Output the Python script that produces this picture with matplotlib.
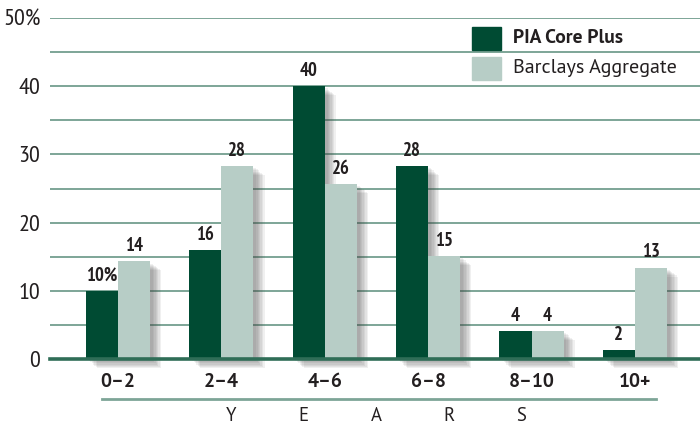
import matplotlib
matplotlib.use("Agg")
import matplotlib.pyplot as plt
import matplotlib.patheffects as pe
import numpy as np

# duration buckets and the two series (% of portfolio)
buckets = ["0\u20132", "2\u20134", "4\u20136", "6\u20138", "8\u201310", "10+"]
pia = [10, 16, 40, 28.3, 4.1, 1.3]
barclays = [14.3, 28.3, 25.7, 15.1, 4.1, 13.4]
pia_labels = ["10%", "16", "40", "28", "4", "2"]
barclays_labels = ["14", "28", "26", "15", "4", "13"]
series_names = ["PIA Core Plus", "Barclays Aggregate"]
yticks = [0, 10, 20, 30, 40, 50]
ytick_labels = ["0", "10", "20", "30", "40", "50%"]
axis_word = ["Y", "E", "A", "R", "S"]

dark = "#004b33"
light = "#b7cdc6"
grid_col = "#7da597"
base_col = "#2f6d57"
txt = "#231f20"
narrow = ["PT Sans Narrow", "DejaVu Sans"]
sans = ["PT Sans", "DejaVu Sans"]

fig = plt.figure(figsize=(7, 4.26), dpi=100)
ax = fig.add_axes([50 / 700, 67 / 426, 650 / 700, 341 / 426])

x = np.arange(len(buckets))
w = 0.31

# soft drop shadow made from stacked translucent copies
shadow = [pe.SimplePatchShadow(offset=(d, -d * 0.8), shadow_rgbFace="#444444", alpha=0.08)
          for d in (2, 3, 4, 5, 6, 7, 8)] + [pe.Normal()]

b1 = ax.bar(x - w / 2, pia, w, color=dark, zorder=3, clip_on=False)
b2 = ax.bar(x + w / 2, barclays, w, color=light, zorder=3, clip_on=False)
for b in list(b1) + list(b2):
    b.set_path_effects(shadow)

for i in range(len(buckets)):
    ax.text(x[i] - w / 2, pia[i] + 0.9, pia_labels[i], ha="center", va="bottom",
            fontsize=13.5, fontweight="bold", family=narrow, color=txt)
    ax.text(x[i] + w / 2, barclays[i] + 0.9, barclays_labels[i], ha="center", va="bottom",
            fontsize=13.5, fontweight="bold", family=narrow, color=txt)

# gridlines every 5
for g in range(5, 51, 5):
    ax.axhline(g, color=grid_col, lw=1.4, zorder=1)
ax.axhline(0, color=base_col, lw=2.6, zorder=5, clip_on=False)

ax.set_xlim(-0.658, 5.63)
ax.set_ylim(0, 50)
for s in ax.spines.values():
    s.set_visible(False)
ax.set_yticks(yticks)
ax.set_yticklabels(ytick_labels, fontsize=17.5, family=narrow, color=txt)
ax.tick_params(axis="y", length=0, pad=7)
ax.set_xticks(x)
ax.set_xticklabels(buckets, fontsize=14, fontweight="bold", family=sans, color=txt)
ax.tick_params(axis="x", length=0, pad=10)

# underline and spaced YEARS
fig.add_artist(plt.Line2D([102 / 700, 656 / 700], [1 - 399 / 426, 1 - 399 / 426],
                          color=grid_col, lw=2))
for k, ch in enumerate(axis_word):
    fig.text((231 + 72.5 * k) / 700, 1 - 416 / 426, ch, ha="center", va="center",
             fontsize=13.5, family=sans, color=txt)

# legend drawn by hand to match the boxed swatches
for k, (name, col) in enumerate(zip(series_names, [dark, light])):
    y0 = 1 - (50 + 30 * k) / 426
    fig.add_artist(plt.Rectangle((472 / 700, y0), 29 / 700, 23 / 426, color=col,
                                 transform=fig.transFigure))
    fig.text(513 / 700, y0 + 12 / 426, name, ha="left", va="center",
             fontsize=14 if k == 0 else 14.5, family=sans,
             fontweight="bold" if k == 0 else "normal", color=txt)

fig.savefig("out.png", dpi=100)
